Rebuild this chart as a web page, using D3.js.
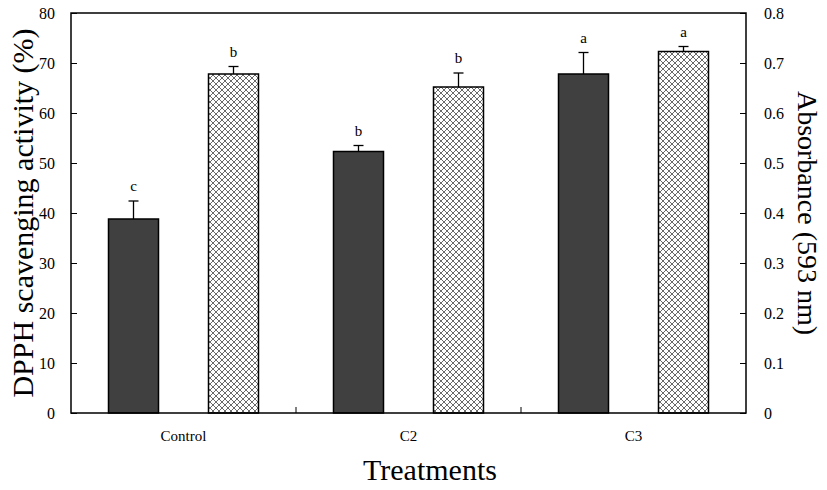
<!DOCTYPE html>
<html><head><meta charset="utf-8">
<script src="https://cdn.jsdelivr.net/npm/d3@7/dist/d3.min.js"></script>
<style>body{margin:0;background:#fff}</style>
</head><body>
<svg id="c" width="827" height="490"></svg>
<script>
const categories = ["Control", "C2", "C3"];
const dpph = [38.8, 52.3, 67.8];
const dpphErr = [3.6, 1.2, 4.3];
const dpphLetters = ["c", "b", "a"];
const absorb = [0.678, 0.652, 0.723];
const absorbErr = [0.015, 0.028, 0.010];
const absorbLetters = ["b", "b", "a"];
const leftTicks = [0, 10, 20, 30, 40, 50, 60, 70, 80];
const rightTicks = [0, 0.1, 0.2, 0.3, 0.4, 0.5, 0.6, 0.7, 0.8];

const svg = d3.select("#c");
const m = {l: 71, r: 746, t: 13, b: 413};
const font = "'Liberation Serif','Times New Roman',serif";

const x = d3.scaleBand().domain(categories).range([m.l, m.r]).padding(0);
const yL = d3.scaleLinear().domain([0, 80]).range([m.b, m.t]);
const yR = d3.scaleLinear().domain([0, 0.8]).range([m.b, m.t]);
const bw = 50;

const defs = svg.append("defs");
const pat = defs.append("pattern").attr("id", "hatch").attr("patternUnits", "userSpaceOnUse")
  .attr("width", 6).attr("height", 6);
pat.append("rect").attr("width", 6).attr("height", 6).attr("fill", "#fff");
pat.append("path").attr("d", "M0,0L6,6M6,0L0,6M-1,5L1,7M5,-1L7,1M-1,1L1,-1M5,7L7,5")
  .attr("stroke", "#6a6a6a").attr("stroke-width", 1);

const cx = c => x(c) + x.bandwidth() / 2;
svg.selectAll(".dark").data(categories).join("rect")
  .attr("x", c => cx(c) - 50 - bw / 2).attr("width", bw)
  .attr("y", (c, i) => yL(dpph[i])).attr("height", (c, i) => m.b - yL(dpph[i]))
  .attr("fill", "#404040").attr("stroke", "#000").attr("stroke-width", 1.5);
svg.selectAll(".hat").data(categories).join("rect")
  .attr("x", c => cx(c) + 50 - bw / 2).attr("width", bw)
  .attr("y", (c, i) => yR(absorb[i])).attr("height", (c, i) => m.b - yR(absorb[i]))
  .attr("fill", "url(#hatch)").attr("stroke", "#000").attr("stroke-width", 1.5);

function err(xc, yTop, yEnd) {
  svg.append("line").attr("x1", xc).attr("x2", xc).attr("y1", yTop).attr("y2", yEnd).attr("stroke", "#000").attr("stroke-width", 1.3);
  svg.append("line").attr("x1", xc - 5).attr("x2", xc + 5).attr("y1", yEnd).attr("y2", yEnd).attr("stroke", "#000").attr("stroke-width", 1.3);
}
categories.forEach((c, i) => {
  const xd = cx(c) - 50, xh = cx(c) + 50;
  err(xd, yL(dpph[i]), yL(dpph[i] + dpphErr[i]));
  err(xh, yR(absorb[i]), yR(absorb[i] + absorbErr[i]));
  svg.append("text").attr("x", xd).attr("y", yL(dpph[i] + dpphErr[i]) - 10).attr("text-anchor", "middle")
    .attr("font-family", font).attr("font-size", 15).text(dpphLetters[i]);
  svg.append("text").attr("x", xh).attr("y", yR(absorb[i] + absorbErr[i]) - 10).attr("text-anchor", "middle")
    .attr("font-family", font).attr("font-size", 15).text(absorbLetters[i]);
});

svg.append("path").attr("d", `M${m.l},${m.b}V${m.t}H${m.r}V${m.b}Z`).attr("fill", "none").attr("stroke", "#000").attr("stroke-width", 1.5);

const gl = svg.append("g").attr("transform", `translate(${m.l},0)`)
  .call(d3.axisLeft(yL).tickValues(leftTicks).tickSize(-6).tickPadding(16).tickFormat(d3.format("d")));
gl.select(".domain").remove();
gl.selectAll("text").attr("font-family", font).attr("font-size", 16).attr("fill", "#000");
gl.selectAll("line").attr("stroke", "#000");

const gr = svg.append("g").attr("transform", `translate(${m.r},0)`)
  .call(d3.axisRight(yR).tickValues(rightTicks).tickSize(-6).tickPadding(18).tickFormat(d => d === 0 ? "0" : d3.format(".1f")(d)));
gr.select(".domain").remove();
gr.selectAll("text").attr("font-family", font).attr("font-size", 16).attr("fill", "#000");
gr.selectAll("line").attr("stroke", "#000");

const gb = svg.append("g").attr("transform", `translate(0,${m.b})`)
  .call(d3.axisBottom(x).tickSize(0).tickPadding(17));
gb.select(".domain").remove();
gb.selectAll("text").attr("font-family", font).attr("font-size", 15).attr("fill", "#000");
svg.selectAll(".sep").data(categories.slice(1)).join("line")
  .attr("x1", c => x(c)).attr("x2", c => x(c)).attr("y1", m.b).attr("y2", m.b - 6)
  .attr("stroke", "#000").attr("stroke-width", 1);

svg.append("text").attr("transform", `translate(33,${(m.t + m.b) / 2}) rotate(-90)`).attr("text-anchor", "middle")
  .attr("font-family", font).attr("font-size", 30).text("DPPH scavenging activity (%)");
svg.append("text").attr("transform", `translate(798,${(m.t + m.b) / 2}) rotate(90)`).attr("text-anchor", "middle")
  .attr("font-family", font).attr("font-size", 28).text("Absorbance (593 nm)");
svg.append("text").attr("x", 430).attr("y", 480).attr("text-anchor", "middle")
  .attr("font-family", font).attr("font-size", 30).text("Treatments");
</script>
</body></html>
